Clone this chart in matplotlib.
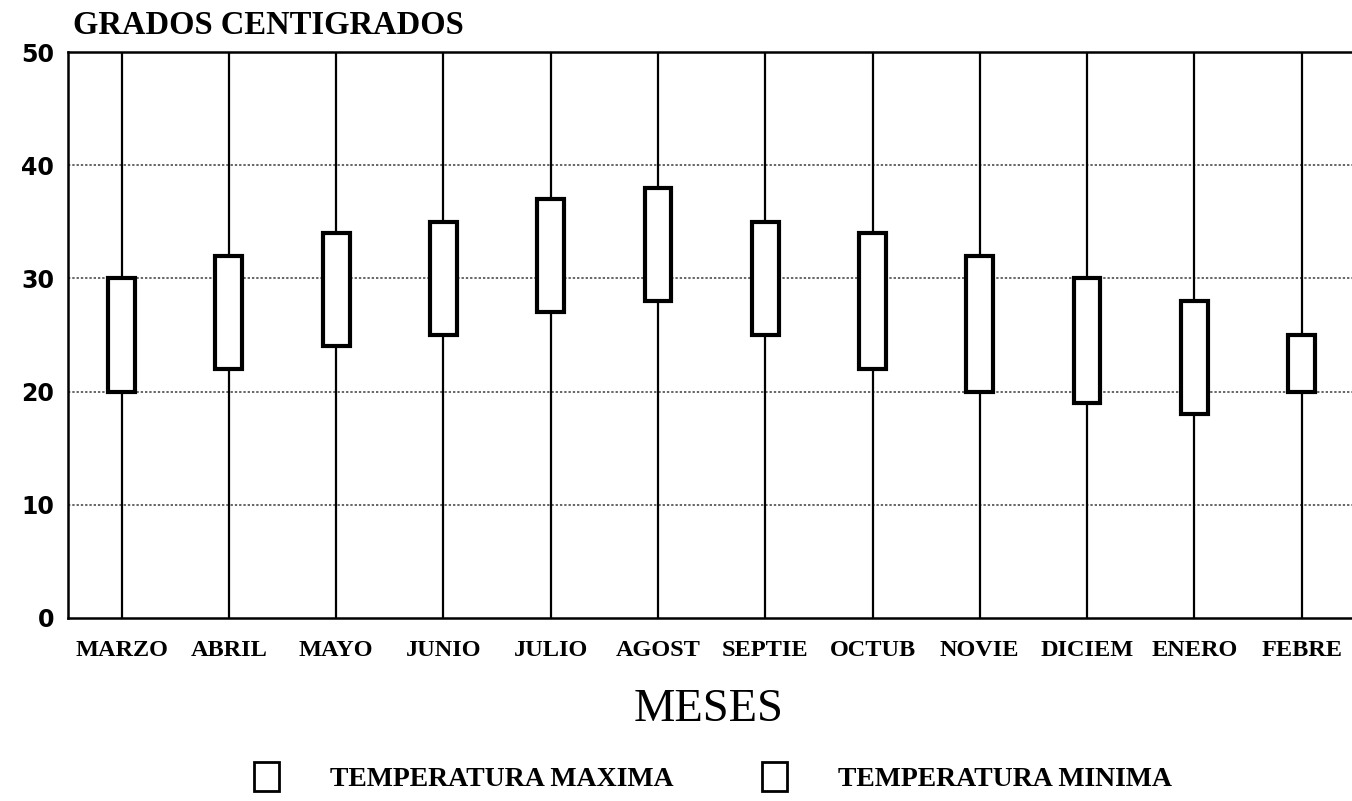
import numpy as np
import matplotlib.pyplot as plt
from matplotlib.patches import Rectangle, Patch

# datos
meses = ['MARZO', 'ABRIL', 'MAYO', 'JUNIO', 'JULIO', 'AGOST',
         'SEPTIE', 'OCTUB', 'NOVIE', 'DICIEM', 'ENERO', 'FEBRE']
temp_max = [30, 32, 34, 35, 37, 38, 35, 34, 32, 30, 28, 25]
temp_min = [20, 22, 24, 25, 27, 28, 25, 22, 20, 19, 18, 20]
y_ticks = [0, 10, 20, 30, 40, 50]

serif = 'Liberation Serif'
sans = 'DejaVu Sans'

fig = plt.figure(figsize=(13.52, 8.01), dpi=100)
ax = fig.add_axes([0.0503, 0.2285, 0.9497, 0.7065])

x = np.arange(len(meses))

# lineas verticales de cada mes
ax.vlines(x, 0, 50, color='black', lw=1.6, zorder=2)

# cajas min-max
w = 0.25
for xi, lo, hi in zip(x, temp_min, temp_max):
    ax.add_patch(Rectangle((xi - w / 2, lo), w, hi - lo, facecolor='white',
                           edgecolor='black', lw=3, zorder=3))

# rejilla punteada
for yv in y_ticks[1:-1]:
    ax.axhline(yv, color='#666666', lw=1.4, ls=(0, (1.2, 1.0)), zorder=1)

ax.set_xlim(-0.5, 11.47)
ax.set_ylim(0, 50)

ax.spines['right'].set_visible(False)
for s in ['left', 'top', 'bottom']:
    ax.spines[s].set_linewidth(1.8)
    ax.spines[s].set_color('black')

ax.set_xticks(x)
ax.set_xticklabels(meses, fontfamily=serif, fontweight='bold', fontsize=17.5)
ax.set_yticks(y_ticks)
ax.set_yticklabels([str(v) for v in y_ticks], fontfamily=sans,
                   fontweight='bold', fontsize=17)
ax.tick_params(axis='x', length=0, pad=16)
ax.tick_params(axis='y', length=0, pad=10)

fig.text(0.054, 0.968, 'GRADOS CENTIGRADOS', fontfamily=serif,
         fontweight='bold', fontsize=23.5, va='center', ha='left')
fig.text(0.5244, 0.1136, 'MESES', fontfamily=serif, fontsize=33.5,
         va='center', ha='center')

handles = [Patch(facecolor='white', edgecolor='black', lw=2),
           Patch(facecolor='white', edgecolor='black', lw=2)]
fig.legend(handles, ['TEMPERATURA MAXIMA', 'TEMPERATURA MINIMA'],
           loc='center', bbox_to_anchor=(0.5275, 0.030), ncol=2, frameon=False,
           handlelength=0.9, handleheight=1.2, handletextpad=1.83,
           columnspacing=3.2,
           prop={'family': serif, 'weight': 'bold', 'size': 20})

fig.savefig('out.png', dpi=100, facecolor='white')
